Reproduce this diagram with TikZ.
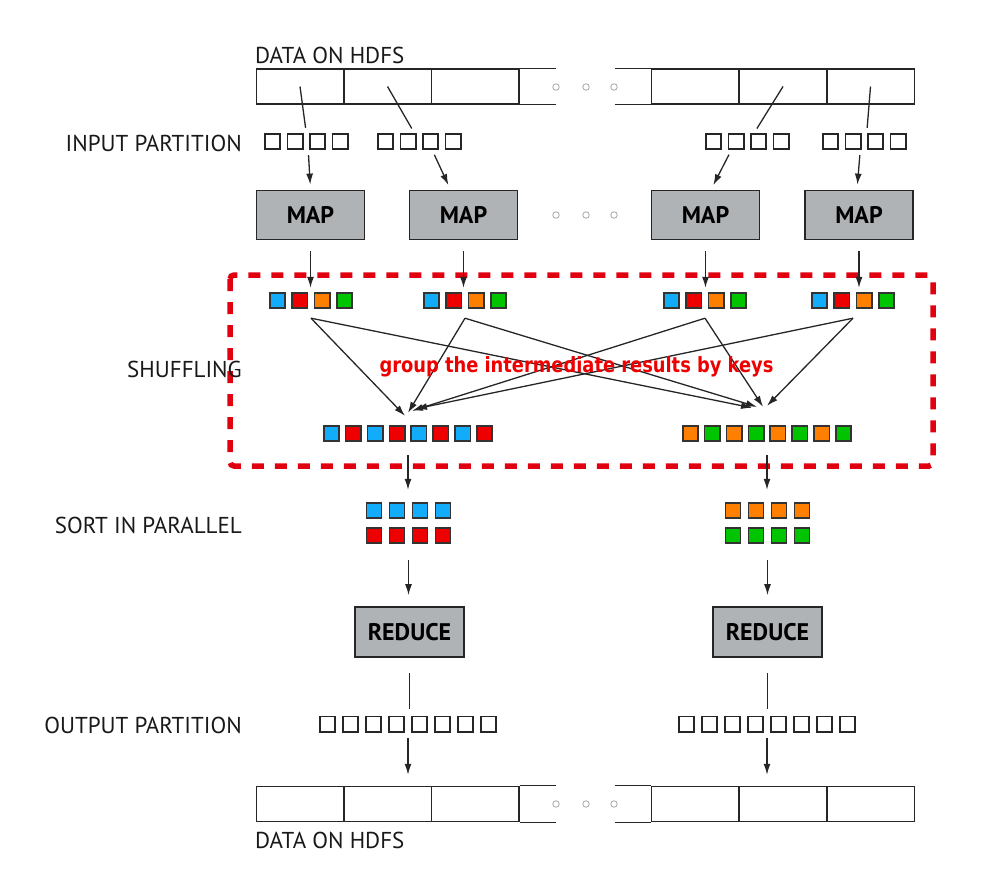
\documentclass[tikz,border=0pt]{standalone}
\usepackage{fontspec}
\setsansfont{PT Sans}
\newfontfamily\hintfont{DejaVu Sans}
\usepackage{xcolor}
\usepackage{tikz}
\usetikzlibrary{positioning,calc,arrows.meta}
\definecolor{kblue}{RGB}{18,172,250}
\definecolor{kred}{RGB}{238,0,0}
\definecolor{korange}{RGB}{255,128,0}
\definecolor{kgreen}{RGB}{0,196,0}
\definecolor{taskgray}{RGB}{176,179,181}
\definecolor{shufred}{RGB}{224,0,16}

\begin{document}
\begin{tikzpicture}[x=1pt, y=-1pt,
    lbl/.style={anchor=base east, inner sep=0, text=black!90, font=\sffamily\fontsize{23}{26}\selectfont},
    cell/.style={draw=black!85, line width=1.5pt, minimum width=87.5pt, minimum height=35pt, inner sep=0},
    part/.style={draw=black!85, line width=1.9pt, minimum size=15.1pt, inner sep=0},
    kv/.style={draw=black!80, line width=1.6pt, fill=#1, minimum size=15.4pt, inner sep=0},
    task/.style={draw=black!85, fill=taskgray, line width=1.8pt, inner sep=0, font=\sffamily\bfseries\fontsize{24}{28}\selectfont},
    grp/.style={inner sep=0, minimum height=17pt},
    dotc/.style={circle, draw=black!35, line width=0.8pt, minimum size=6.5pt, inner sep=0},
    hint/.style={anchor=base, inner sep=0, text=kred, font=\hintfont\bfseries\fontsize{21}{24}\selectfont},
    arr/.style={-{Latex[length=11pt,width=7pt]}, line width=1.3pt, draw=black!85},
    link/.style={line width=1.3pt, draw=black!85}]
    \useasboundingbox (0,0) rectangle (1001,889);

    % shuffle region
    \draw[shufred, line width=5.5pt, dash pattern=on 12pt off 11pt, rounded corners=4pt] (230,275) rectangle (933,466);

    % data on hdfs, top and bottom
    \foreach \i/\x in {1/300,2/387.5,3/475,4/695,5/783,6/870.5} {
        \node[cell] (hin\i) at (\x,86.5) {};
        \node[cell] (hout\i) at (\x,804) {};
    }
    \draw[link] (hin3.north east) -- ++(36,0) (hin3.south east) -- ++(36,0);
    \draw[link] (hin4.north west) -- ++(-36,0) (hin4.south west) -- ++(-36,0);
    \draw[link] (hout3.north east) -- ++(36,0) (hout3.south east) -- ++(36,0);
    \draw[link] (hout4.north west) -- ++(-36,0) (hout4.south west) -- ++(-36,0);
    \foreach \r/\y in {a/87,b/215,c/804}
        \foreach \k/\x in {1/556,2/586,3/614}
            \node[dotc] (dot\r\k) at (\x,\y) {};

    % input partitions
    \foreach \g/\x in {1/264,2/377,3/705,4/822} {
        \node[grp, minimum width=84.5pt] (ip\g) at (\x+42.25,141.5) {};
        \foreach \k in {0,...,3}
            \node[part] (ip\g-\k) at (\x+8.5+22.5*\k,141.5) {};
    }
    \draw[link, shorten >=5pt] (hin1.center) -- (ip1.north);
    \draw[link, shorten >=5pt] (hin2.center) -- ([xshift=-5pt]ip2.north);
    \draw[link, shorten >=5pt] (hin5.center) -- ([xshift=7pt]ip3.north);
    \draw[link, shorten >=5pt] (hin6.center) -- ([xshift=2.5pt]ip4.north);

    % map tasks
    \foreach \i/\x in {1/310.5,2/463.5,3/705.5,4/859}
        \node[task, minimum width=108pt, minimum height=49pt] (map\i) at (\x,215) {MAP};
    \draw[arr, shorten <=5pt, shorten >=5pt] ([xshift=2pt]ip1.south) -- (map1.north);
    \draw[arr, shorten <=5pt, shorten >=5pt] ([xshift=13pt]ip2.south) -- ([xshift=-13pt]map2.north);
    \draw[arr, shorten <=5pt, shorten >=5pt] ([xshift=-16pt]ip3.south) -- ([xshift=5.5pt]map3.north);
    \draw[arr, shorten <=5pt, shorten >=5pt] ([xshift=-4pt]ip4.south) -- ([xshift=-2pt]map4.north);

    % intermediate key/value pairs
    \foreach \g/\x in {1/269,2/423,3/663,4/811} {
        \node[grp, minimum width=84pt] (kv\g) at (\x+42,300.5) {};
        \foreach \k/\c in {0/kblue,1/kred,2/korange,3/kgreen}
            \node[kv=\c] (kv\g-\k) at (\x+8.5+22.33*\k,300.5) {};
        \coordinate (s\g) at ([yshift=-9pt]kv\g.south);
    }
    \foreach \i in {1,...,4}
        \draw[arr, shorten <=11pt, shorten >=4pt] (map\i.south) -- (map\i.south |- kv\i.north);

    \foreach \s/\x/\ca/\cb in {L/323/kblue/kred, R/682/korange/kgreen} {
        \node[grp, minimum width=170pt] (kv\s) at (\x+85,433.5) {};
        \foreach \k/\c in {0/\ca,1/\cb,2/\ca,3/\cb,4/\ca,5/\cb,6/\ca,7/\cb}
            \node[kv=\c] (kv\s-\k) at (\x+8.5+21.86*\k,433.5) {};
    }
    \foreach \g/\lx/\ly/\rx/\ry in {1/-3pt/9pt/-15pt/17pt, 2/0pt/12pt/-10pt/18pt, 3/4pt/14pt/-4pt/18pt, 4/8pt/16pt/0pt/19pt} {
        \draw[arr] (s\g) -- ([shift={(\lx,\ly)}]kvL.north);
        \draw[arr] (s\g) -- ([shift={(\rx,\ry)}]kvR.north);
    }
    \node[hint] (hint) at (576.5,372) {\scalebox{0.85}[1]{group the intermediate results by keys}};

    % sort, reduce, output
    \foreach \s/\x/\ca/\cb in {L/366/kblue/kred, R/725/korange/kgreen} {
        \node[grp, minimum width=85pt, minimum height=42pt] (sort\s) at (\x+42.5,523) {};
        \foreach \k in {0,...,3} {
            \node[kv=\ca, minimum size=15pt] (sort\s-a\k) at (\x+8+23*\k,510.5) {};
            \node[kv=\cb, minimum size=15pt] (sort\s-b\k) at (\x+8+23*\k,535.5) {};
        }
    }
    \node[task, minimum width=109pt, minimum height=50pt] (redL) at (409.5,632) {REDUCE};
    \node[task, minimum width=109pt, minimum height=50pt] (redR) at (767.5,632) {REDUCE};
    \foreach \s/\x in {L/319,R/678} {
        \node[grp, minimum width=178pt, minimum height=18pt] (op\s) at (\x+89,724) {};
        \foreach \k in {0,...,7}
            \node[part] (op\s-\k) at (\x+8.5+23*\k,724) {};
    }
    \foreach \s/\h in {L/2,R/5} {
        \draw[arr, shorten <=13pt, shorten >=12pt] (kv\s.south) -- (kv\s.south |- sort\s.north);
        \draw[arr, shorten <=16pt, shorten >=11pt] (sort\s.south) -- (sort\s.south |- red\s.north);
        \draw[link, shorten <=15pt, shorten >=6pt] (red\s.south) -- (red\s.south |- op\s.north);
        \draw[arr, shorten <=5pt, shorten >=11pt] (op\s.south) -- (op\s.south |- hout\h.north);
    }

    % row labels
    \node[lbl, anchor=base west] (topdata) at (255,63) {DATA ON HDFS};
    \node[lbl] (inlbl) at (242,151) {INPUT PARTITION};
    \node[lbl] (shuflbl) at (242,377) {SHUFFLING};
    \node[lbl] (sortlbl) at (242,533) {SORT IN PARALLEL};
    \node[lbl] (outlbl) at (242,733) {OUTPUT PARTITION};
    \node[lbl, anchor=base west] (botdata) at (255,848) {DATA ON HDFS};
\end{tikzpicture}
\end{document}
